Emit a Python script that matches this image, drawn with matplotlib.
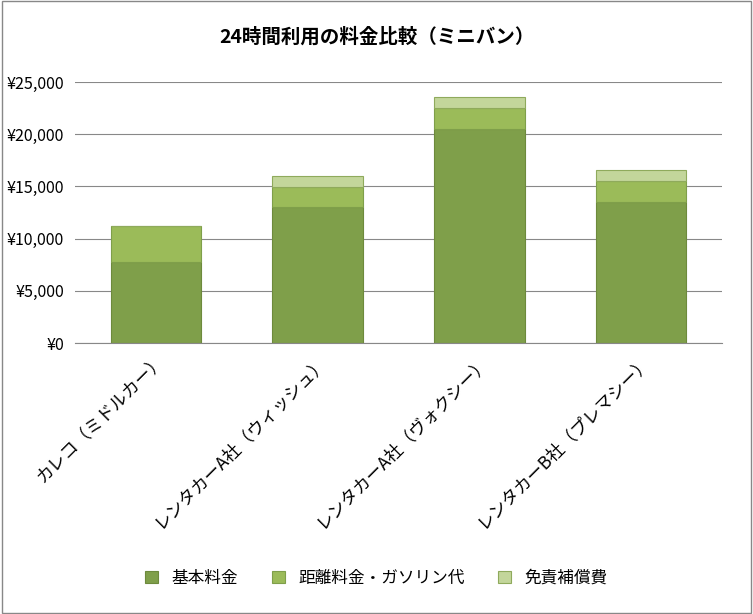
import matplotlib.pyplot as plt
from matplotlib.ticker import FuncFormatter
import numpy as np

plt.rcParams['font.family'] = 'Noto Sans CJK JP'

categories = ['カレコ（ミドルカー）', 'レンタカーA社（ウィッシュ）', 'レンタカーA社（ヴォクシー）', 'レンタカーB社（プレマシー）']
base_fee = [7750, 13000, 20500, 13500]
distance_fee = [3450, 1900, 2000, 2050]
insurance_fee = [0, 1100, 1050, 1050]
series_names = ['基本料金', '距離料金・ガソリン代', '免責補償費']

fig = plt.figure(figsize=(7.53, 6.14), dpi=100)
ax = fig.add_axes([75 / 753, 1 - 343 / 614, 647 / 753, 261 / 614])

x = np.arange(len(categories))
w = 0.56
b1 = np.array(base_fee)
b2 = b1 + np.array(distance_fee)
ax.bar(x, base_fee, w, color='#7f9f4a', edgecolor='#6d8a3c', linewidth=0.8, label=series_names[0], zorder=2)
ax.bar(x, distance_fee, w, bottom=b1, color='#9bbb59', edgecolor='#7f9f4a', linewidth=0.8, label=series_names[1], zorder=2)
ax.bar(x, insurance_fee, w, bottom=b2, color='#c3d69b', edgecolor='#8faa5c', linewidth=0.8, label=series_names[2], zorder=2)

ax.set_xlim(-0.5, len(categories) - 0.5)
ax.set_ylim(0, 25000)
ax.set_yticks(range(0, 25001, 5000))
ax.yaxis.set_major_formatter(FuncFormatter(lambda v, p: f'¥{int(v):,}'))
ax.grid(axis='y', color='#888888', linewidth=0.8, zorder=0)
for s in ['top', 'right', 'left']:
    ax.spines[s].set_visible(False)
ax.spines['bottom'].set_color('#888888')
ax.tick_params(axis='y', length=0, labelsize=11.5, pad=8)
ax.tick_params(axis='x', length=0, labelsize=12.5, pad=6)
ax.set_xticks(x)
ax.set_xticklabels(categories, rotation=45, ha='right', rotation_mode='anchor')

fig.suptitle('24時間利用の料金比較（ミニバン）', y=0.955, fontsize=14, fontweight='bold')
fig.legend(loc='lower center', bbox_to_anchor=(0.5, 0.02), ncol=3, frameon=False, fontsize=12,
           handlelength=0.8, handleheight=0.8, columnspacing=2.0)
fig.patches.append(plt.Rectangle((0.002, 0.002), 0.996, 0.996, transform=fig.transFigure,
                                 fill=False, edgecolor='#888888', linewidth=1))
fig.savefig('out.png', dpi=100)
